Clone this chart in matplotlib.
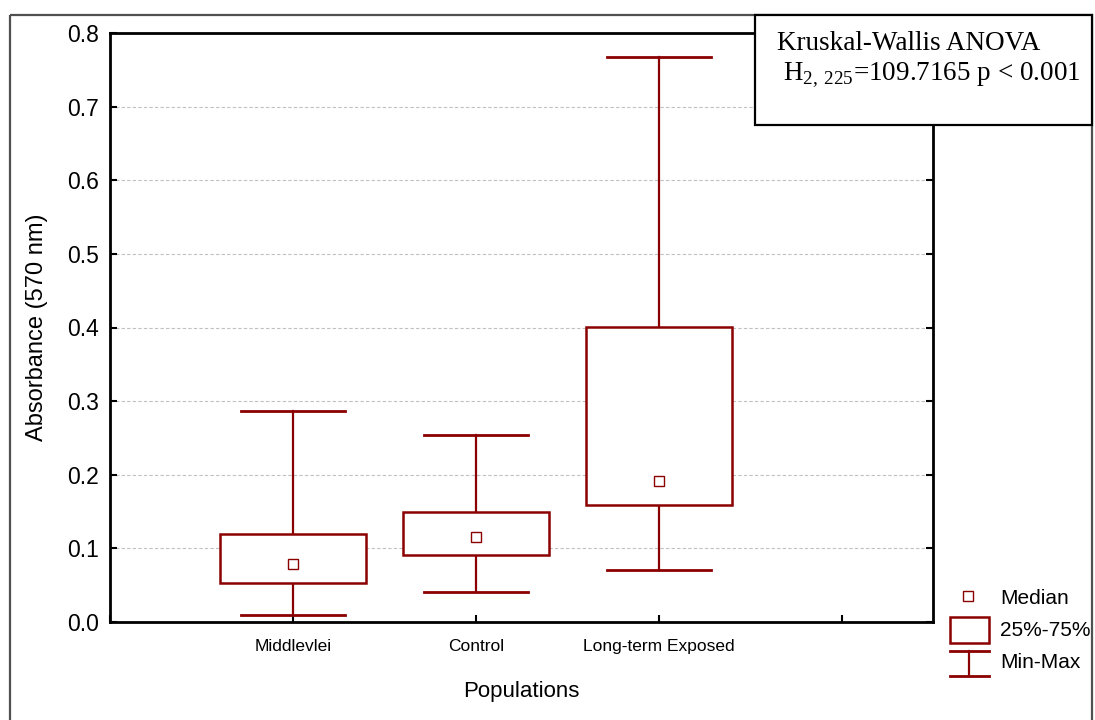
import matplotlib
matplotlib.use('Agg')
import matplotlib.pyplot as plt
from matplotlib.patches import Rectangle

# values
groups = ['Middlevlei', 'Control', 'Long-term Exposed']
mins = [0.010, 0.041, 0.071]
q1s = [0.053, 0.091, 0.159]
medians = [0.079, 0.115, 0.192]
q3s = [0.120, 0.149, 0.401]
maxs = [0.286, 0.254, 0.768]

red = '#8b0000'
sans = ['Liberation Sans', 'DejaVu Sans']
serif = ['Liberation Serif', 'DejaVu Serif']

plt.rcParams['mathtext.fontset'] = 'custom'
plt.rcParams['mathtext.rm'] = 'Liberation Serif'

fig = plt.figure(figsize=(10.95, 7.2), dpi=100)
ax = fig.add_axes([110 / 1095, 1 - 622 / 720, (933 - 110) / 1095, (622 - 33) / 720])

box_w = 0.8
cap_w = 0.57
for i in range(len(groups)):
    x = i + 1
    # whiskers
    ax.plot([x, x], [q3s[i], maxs[i]], color=red, lw=1.6, zorder=3)
    ax.plot([x, x], [mins[i], q1s[i]], color=red, lw=1.6, zorder=3)
    ax.plot([x - cap_w / 2, x + cap_w / 2], [maxs[i], maxs[i]], color=red, lw=2, zorder=3)
    ax.plot([x - cap_w / 2, x + cap_w / 2], [mins[i], mins[i]], color=red, lw=2, zorder=3)
    # box
    ax.add_patch(Rectangle((x - box_w / 2, q1s[i]), box_w, q3s[i] - q1s[i],
                           facecolor='white', edgecolor=red, lw=1.8, zorder=3))
    ax.plot([x], [medians[i]], marker='s', ms=7, mfc='white', mec=red, mew=1, zorder=4)

ax.set_xlim(0, 4.5)
ax.set_ylim(0, 0.8)
ax.set_xticks([0, 1, 2, 3, 4])
ax.set_xticklabels([''] + groups + [''], fontsize=12.5, family=sans)
ax.set_yticks([0.0, 0.1, 0.2, 0.3, 0.4, 0.5, 0.6, 0.7, 0.8])
ax.set_yticklabels([f'{v:.1f}' for v in ax.get_yticks()], fontsize=16.5, family=sans)
ax.tick_params(direction='in', length=5, width=1.5, right=True, pad=8)
ax.tick_params(axis='x', pad=12)
ax.grid(axis='y', color='#c0c0c0', lw=0.8, ls=(0, (3, 2)), zorder=0)
ax.set_axisbelow(True)
for s in ax.spines.values():
    s.set_linewidth(2)
    s.set_zorder(5)

ax.set_ylabel('Absorbance (570 nm)', fontsize=17, family=sans, labelpad=14)
ax.set_xlabel('Populations', fontsize=16, family=sans, labelpad=20)

# overlay in pixel units for the frame, the note box and the legend
ov = fig.add_axes([0, 0, 1092 / 1095, 1], zorder=10)
ov.set_xlim(0, 1092)
ov.set_ylim(720, 0)
ov.axis('off')
ov.patch.set_alpha(0)

ov.add_patch(Rectangle((10, 15), 1082, 710, fill=False, edgecolor='#505050', lw=1.6, clip_on=False))
ov.add_patch(Rectangle((755, 15), 337, 110, facecolor='white', edgecolor='black', lw=1.6, clip_on=False))
ov.text(777, 44, 'Kruskal-Wallis ANOVA', fontsize=19.5, family=serif, va='center')
ov.text(783, 75, r'H$_{\mathrm{2,\,225}}$=109.7165 p < 0.001', fontsize=19.5, family=serif, va='center')

# legend
ov.plot([968], [596], marker='s', ms=7, mfc='white', mec=red, mew=1)
ov.text(1000, 598, 'Median', fontsize=15, family=sans, va='center')
ov.add_patch(Rectangle((950, 617), 39, 26, fill=False, edgecolor=red, lw=1.8))
t = ov.text(1000, 631, '25%-75%', fontsize=15, family=sans, va='center')
t.set_clip_on(True)
ov.plot([950, 989], [651, 651], color=red, lw=2)
ov.plot([950, 989], [676, 676], color=red, lw=2)
ov.plot([969, 969], [651, 676], color=red, lw=1.6)
ov.text(1000, 663, 'Min-Max', fontsize=15, family=sans, va='center')

fig.savefig('out.png', dpi=100)
